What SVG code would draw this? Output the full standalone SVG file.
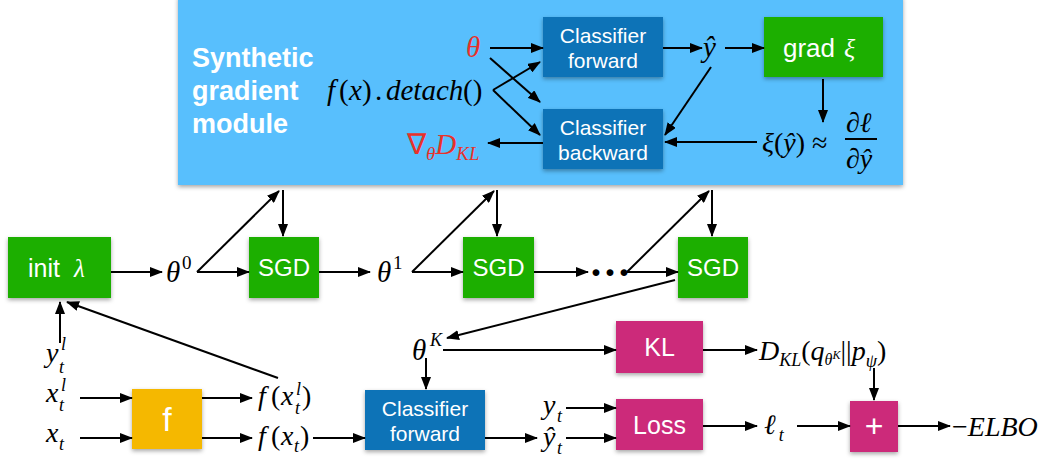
<svg xmlns="http://www.w3.org/2000/svg" width="1050" height="459" viewBox="0 0 1050 459">
<defs>
<marker id="ah" markerUnits="userSpaceOnUse" markerWidth="13" markerHeight="10" refX="12" refY="5" orient="auto">
<path d="M0,0 L13,5 L0,10 z" fill="#000"/>
</marker>
<filter id="sh" x="-20%" y="-20%" width="140%" height="150%">
<feDropShadow dx="0" dy="2" stdDeviation="2" flood-color="#000" flood-opacity="0.35"/>
</filter>
</defs>
<style>
.box{filter:url(#sh)}
.g{fill:#1FAF00}
.b{fill:#0A73B7}
.m{fill:#CC2A7A}
.o{fill:#F5B800}
.lb{font-family:"Liberation Sans",Arial,sans-serif;fill:#fff;text-anchor:middle}
.st{text-anchor:start}
.math{font-family:"Liberation Serif","Times New Roman",serif;font-style:italic;fill:#000}
.up{font-style:normal}
.red{fill:#E8312A}
.cn line{stroke:#000;stroke-width:2;fill:none}
.arr{marker-end:url(#ah)}
</style>

<g id="module">
<rect class="box" x="178" y="-4" width="725" height="189" fill="#58BFFD"/>
<text font-family="Liberation Sans,Arial,sans-serif" font-weight="bold" font-size="27" fill="#fff"><tspan x="192" y="67">Synthetic</tspan><tspan x="192" y="100">gradient</tspan><tspan x="192" y="133">module</tspan></text>
</g>

<g id="cls-fwd-top"><rect class="box b" x="543" y="17" width="120" height="60"/><text class="lb" font-size="21"><tspan x="603" y="43">Classifier</tspan><tspan x="603" y="68">forward</tspan></text></g>
<g id="cls-bwd"><rect class="box b" x="543" y="109" width="120" height="60"/><text class="lb" font-size="21"><tspan x="603" y="135">Classifier</tspan><tspan x="603" y="160">backward</tspan></text></g>
<g id="grad"><rect class="box g" x="764" y="17" width="119" height="60"/><text class="lb st" font-size="26" x="783" y="57">grad<tspan x="844" font-family="Liberation Serif,serif" font-style="italic">ξ</tspan></text></g>

<g id="theta-red"><text class="math red" font-size="29" x="466" y="57">θ</text></g>
<g id="fx-detach"><text class="math" font-size="29" x="327" y="100">f<tspan class="up" x="339">(</tspan><tspan x="349">x</tspan><tspan class="up" x="362">)</tspan><tspan class="up" x="375">.</tspan><tspan x="386">detach</tspan><tspan class="up" x="463">()</tspan></text></g>
<g id="grad-dkl"><text class="math red" font-size="29" x="407" y="154"><tspan class="up">∇</tspan><tspan font-size="19" dy="6">θ</tspan><tspan dy="-6">D</tspan><tspan font-size="19" dy="6">KL</tspan></text></g>
<g id="yhat"><text class="math" font-size="29" x="703" y="57">ŷ</text></g>
<g id="xi-approx"><text class="math" font-size="28" x="762" y="152">ξ<tspan class="up">(</tspan>ŷ<tspan class="up">) ≈</tspan></text>
<text class="math" font-size="28" x="846" y="132">∂ℓ</text>
<line x1="845" y1="139" x2="877" y2="139" stroke="#000" stroke-width="2"/>
<text class="math" font-size="28" x="846" y="168">∂ŷ</text></g>

<g id="init"><rect class="box g" x="8" y="237" width="103" height="61"/><text class="lb st" font-size="25" x="28" y="277">init<tspan x="74" font-family="Liberation Serif,serif" font-style="italic">λ</tspan></text></g>
<g id="sgd1"><rect class="box g" x="249" y="237" width="70" height="61"/><text class="lb" font-size="24" x="284" y="276">SGD</text></g>
<g id="sgd2"><rect class="box g" x="463" y="237" width="71" height="61"/><text class="lb" font-size="24" x="498.5" y="276">SGD</text></g>
<g id="sgd3"><rect class="box g" x="678" y="237" width="70" height="61"/><text class="lb" font-size="24" x="713" y="276">SGD</text></g>
<g id="theta0"><text class="math" font-size="29" x="166" y="282">θ<tspan class="up" font-size="19" x="182" dy="-13">0</tspan></text></g>
<g id="theta1"><text class="math" font-size="29" x="377" y="282">θ<tspan class="up" font-size="19" x="393" dy="-13">1</tspan></text></g>
<g id="dots"><text font-family="Liberation Serif,serif" font-weight="bold" font-size="42" x="589" y="287">···</text></g>

<g id="thetaK"><text class="math" font-size="29" x="412" y="360">θ<tspan font-size="18" x="430" dy="-14">K</tspan></text></g>
<g id="kl"><rect class="box m" x="616" y="321" width="87" height="52"/><text class="lb" font-size="25" x="659.5" y="356">KL</text></g>
<g id="loss"><rect class="box m" x="616" y="399" width="87" height="51"/><text class="lb" font-size="25" x="659.5" y="434">Loss</text></g>
<g id="plus"><rect class="box m" x="850" y="401" width="48" height="51"/><text class="lb" font-size="32" x="874" y="437">+</text></g>
<g id="cls-fwd-low"><rect class="box b" x="365" y="390" width="120" height="60"/><text class="lb" font-size="21"><tspan x="425" y="416">Classifier</tspan><tspan x="425" y="441">forward</tspan></text></g>
<g id="fbox"><rect class="box o" x="132" y="389" width="70" height="60"/><text class="lb" font-size="34" x="167" y="431">f</text></g>

<g id="dkl"><text class="math" font-size="28" x="759" y="360">D<tspan font-size="18" dy="6">KL</tspan><tspan class="up" dy="-6">(</tspan>q<tspan font-size="16" dy="5">θ</tspan><tspan font-size="12" dy="-6">K</tspan><tspan class="up" dy="1">||</tspan>p<tspan font-size="18" dy="7">ψ</tspan><tspan class="up" dy="-7">)</tspan></text></g>
<g id="ell-t"><text class="math" font-size="28" x="764" y="434">ℓ<tspan font-size="18" dx="3" dy="7">t</tspan></text></g>
<g id="elbo"><text class="math" font-size="28" x="952" y="436"><tspan class="up">−</tspan>ELBO</text></g>

<g id="ytl"><text class="math" font-size="28" x="46" y="362">y<tspan font-size="18" x="61" y="350">l</tspan><tspan font-size="18" x="59" y="373">t</tspan></text></g>
<g id="xtl"><text class="math" font-size="28" x="46" y="402">x<tspan font-size="18" x="61" y="391">l</tspan><tspan font-size="18" x="59" y="411">t</tspan></text></g>
<g id="xt"><text class="math" font-size="28" x="46" y="442">x<tspan font-size="18" x="59" y="450">t</tspan></text></g>
<g id="fxtl"><text class="math" font-size="28" x="258" y="405">f<tspan class="up" x="271">(</tspan><tspan x="281">x</tspan><tspan font-size="18" x="296" y="395">l</tspan><tspan font-size="18" x="295" y="414">t</tspan><tspan class="up" x="302" y="405">)</tspan></text></g>
<g id="fxt"><text class="math" font-size="28" x="258" y="445">f<tspan class="up" x="271">(</tspan><tspan x="281">x</tspan><tspan font-size="18" x="294" y="452">t</tspan><tspan class="up" x="300" y="445">)</tspan></text></g>
<g id="yt"><text class="math" font-size="28" x="543" y="414">y<tspan font-size="18" x="557" y="422">t</tspan></text></g>
<g id="yhatt"><text class="math" font-size="28" x="543" y="446">ŷ<tspan font-size="18" x="557" y="454">t</tspan></text></g>

<g class="cn" id="connectors">
<line class="arr" x1="490" y1="48" x2="543" y2="48"/>
<line class="arr" x1="490" y1="58" x2="540" y2="102"/>
<line class="arr" x1="493" y1="90" x2="540" y2="62"/>
<line class="arr" x1="493" y1="90" x2="540" y2="135"/>
<line class="arr" x1="543" y1="143" x2="488" y2="143"/>
<line class="arr" x1="663" y1="48" x2="702" y2="48"/>
<line class="arr" x1="725" y1="48" x2="764" y2="48"/>
<line class="arr" x1="711" y1="67" x2="665" y2="135"/>
<line class="arr" x1="823" y1="79" x2="823" y2="122"/>
<line class="arr" x1="757" y1="142" x2="665" y2="142"/>

<line class="arr" x1="111" y1="272" x2="162" y2="272"/>
<line class="arr" x1="197" y1="272" x2="249" y2="272"/>
<line class="arr" x1="197" y1="272" x2="279" y2="191"/>
<line class="arr" x1="283" y1="190" x2="283" y2="236"/>
<line class="arr" x1="319" y1="272" x2="370" y2="272"/>
<line class="arr" x1="412" y1="272" x2="463" y2="272"/>
<line class="arr" x1="412" y1="272" x2="494" y2="191"/>
<line class="arr" x1="497" y1="190" x2="497" y2="236"/>
<line class="arr" x1="534" y1="272" x2="588" y2="272"/>
<line class="arr" x1="627" y1="272" x2="678" y2="272"/>
<line class="arr" x1="627" y1="272" x2="709" y2="191"/>
<line class="arr" x1="712" y1="190" x2="712" y2="236"/>
<line class="arr" x1="675" y1="280" x2="447" y2="338"/>

<line class="arr" x1="443" y1="350" x2="616" y2="350"/>
<line class="arr" x1="426" y1="358" x2="426" y2="389"/>
<line class="arr" x1="703" y1="350" x2="757" y2="350"/>
<line class="arr" x1="874" y1="368" x2="874" y2="400"/>
<line class="arr" x1="485" y1="438" x2="537" y2="438"/>
<line class="arr" x1="566" y1="408" x2="616" y2="408"/>
<line class="arr" x1="566" y1="438" x2="616" y2="438"/>
<line class="arr" x1="703" y1="426" x2="757" y2="426"/>
<line class="arr" x1="797" y1="426" x2="850" y2="426"/>
<line class="arr" x1="898" y1="426" x2="950" y2="426"/>

<line class="arr" x1="60" y1="343" x2="60" y2="302"/>
<line class="arr" x1="278" y1="378" x2="67" y2="302"/>
<line class="arr" x1="80" y1="398" x2="132" y2="398"/>
<line class="arr" x1="80" y1="438" x2="132" y2="438"/>
<line class="arr" x1="202" y1="398" x2="252" y2="398"/>
<line class="arr" x1="202" y1="438" x2="252" y2="438"/>
<line class="arr" x1="313" y1="438" x2="365" y2="438"/>
</g>
</svg>
